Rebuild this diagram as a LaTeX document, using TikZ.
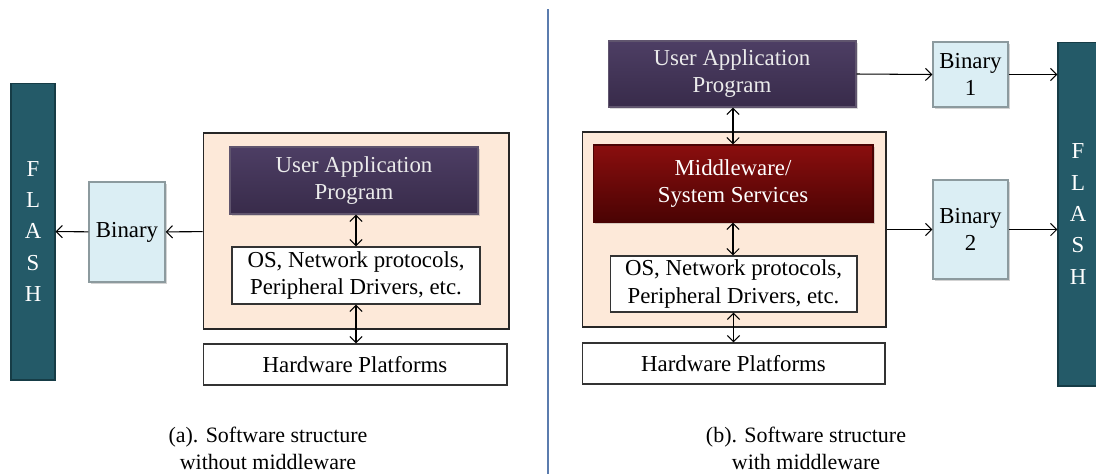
\documentclass[tikz,border=0pt]{standalone}
\usepackage{fontspec}
\setmainfont{Liberation Serif}
\usetikzlibrary{arrows.meta,shadows}
\definecolor{flashfill}{HTML}{245A68}
\definecolor{flashline}{HTML}{163C46}
\definecolor{binfill}{HTML}{DBEEF4}
\definecolor{binline}{HTML}{8C9A9E}
\definecolor{peachfill}{HTML}{FDE9D9}
\definecolor{divcol}{HTML}{5B7CAE}
\definecolor{apptop}{HTML}{4D3E64}
\definecolor{appbot}{HTML}{382B4A}
\definecolor{midtop}{HTML}{8A0E0E}
\definecolor{midbot}{HTML}{4A0303}
\tikzset{
	txt/.style={font=\fontsize{13}{15.4}\selectfont,align=center,inner sep=0pt},
	flashbox/.style={txt,draw=flashline,fill=flashfill,text=white,font=\fontsize{13}{17.9}\selectfont},
	binbox/.style={txt,draw=binline,line width=0.8pt,fill=binfill,drop shadow={shadow xshift=1.3pt,shadow yshift=-1.3pt,opacity=0.35}},
	peachbox/.style={draw=black!85,line width=0.6pt,fill=peachfill},
	appbox/.style={txt,text=white!92!black,top color=apptop,bottom color=appbot,draw=appbot!80!white,drop shadow={shadow xshift=1.2pt,shadow yshift=-1.2pt,opacity=0.3}},
	midbox/.style={txt,text=white,top color=midtop,bottom color=midbot,draw=midbot,drop shadow={shadow xshift=1.2pt,shadow yshift=-1.2pt,opacity=0.3}},
	plainbox/.style={txt,draw=black!80,line width=0.6pt,fill=white},
	captxt/.style={font=\fontsize{12.5}{15.4}\selectfont,align=center,inner sep=0pt}
}
\begin{document}
\begin{tikzpicture}[x=0.02cm,y=-0.02cm,>={Straight Barb[length=3.5pt,width=7pt]},line width=0.6pt]
			\useasboundingbox (0,0) rectangle (1096,474);
			\node[flashbox,minimum width=0.88cm,minimum height=5.94cm] (flashA) at (33,231.5) {F\\L\\A\\S\\H};
			\node[binbox,minimum width=1.52cm,minimum height=2cm] (binA) at (127,232) {Binary};
			\node[peachbox,minimum width=6.12cm,minimum height=3.92cm] (peachA) at (356,231) {};
			\node[appbox,minimum width=4.96cm,minimum height=1.34cm] (appA) at (354,180.5) {User Application\\Program};
			\node[plainbox,minimum width=4.96cm,minimum height=1.14cm] (osA) at (356,275.5) {OS, Network protocols,\\Peripheral Drivers, etc.};
			\node[plainbox,minimum width=6.08cm,minimum height=0.82cm] (hwA) at (355,364.5) {Hardware Platforms};
			\draw[->] (peachA) -- (binA);
			\draw[->] (binA) -- (flashA);
			\draw[<->] (osA.north) -- (osA.north |- appA.south);
			\draw[<->] (osA.south) -- (osA.south |- hwA.north);
			\node[captxt] (capA) at (268,448.5) {(a). Software structure\\without middleware};
			\draw[divcol,line width=0.9pt] (548,9) -- (548,474);
			\node[appbox,minimum width=4.96cm,minimum height=1.32cm] (appB) at (732,74) {User Application\\Program};
			\node[peachbox,minimum width=6.08cm,minimum height=3.9cm] (peachB) at (734,229.5) {};
			\node[midbox,minimum width=5.6cm,minimum height=1.54cm] (midB) at (733,183.5) {Middleware/\\System Services};
			\node[plainbox,minimum width=4.94cm,minimum height=1.12cm] (osB) at (733.5,284) {OS, Network protocols,\\Peripheral Drivers, etc.};
			\node[plainbox,minimum width=6.06cm,minimum height=0.82cm] (hwB) at (733.5,363.5) {Hardware Platforms};
			\node[binbox,minimum width=1.5cm,minimum height=1.3cm] (binB1) at (970.5,74.5) {Binary\\1};
			\node[binbox,minimum width=1.5cm,minimum height=1.98cm] (binB2) at (970.5,229.5) {Binary\\2};
			\node[flashbox,minimum width=0.8cm,minimum height=6.88cm] (flashB) at (1078,214) {F\\L\\A\\S\\H};
			\draw[<->] (midB.north) -- (midB.north |- appB.south);
			\draw[<->] (midB.south) -- (midB.south |- osB.north);
			\draw[<->] (osB.south) -- (osB.south |- hwB.north);
			\draw[->] (appB.east) -- (binB1.west);
			\draw[->] (binB1) -- (binB1 -| flashB.west);
			\draw[->] (peachB) -- (binB2);
			\draw[->] (binB2) -- (binB2 -| flashB.west);
			\node[captxt] (capB) at (806,448.5) {(b). Software structure\\with middleware};
			\end{tikzpicture}
\end{document}
